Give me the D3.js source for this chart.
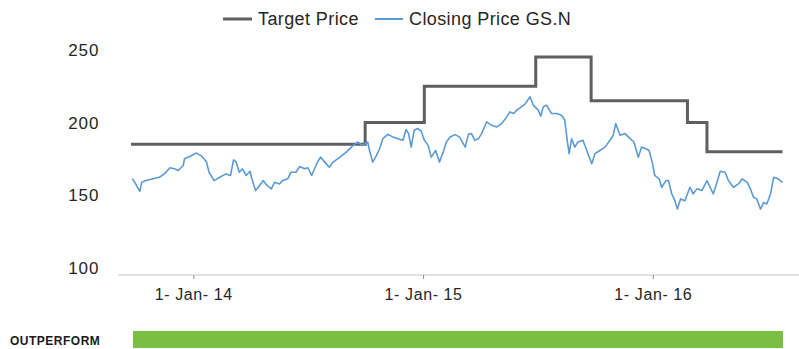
<!DOCTYPE html>
<html>
<head>
<meta charset="utf-8">
<script src="https://cdn.jsdelivr.net/npm/d3@7"></script>
<style>
  body { margin: 0; background: #fff; }
  svg { display: block; font-family: "Liberation Sans", Arial, sans-serif; }
</style>
</head>
<body>
<svg id="chart" width="799" height="349"></svg>
<script>
// Closing price of GS.N (sampled)
const priceDates = [
  "2013-09-26","2013-09-30","2013-10-08","2013-10-11","2013-10-18","2013-10-29","2013-11-08","2013-11-16",
  "2013-11-25","2013-12-02","2013-12-08","2013-12-16","2013-12-18","2013-12-26","2014-01-06","2014-01-15",
  "2014-01-22","2014-01-26","2014-02-03","2014-02-12","2014-02-22","2014-03-01","2014-03-06","2014-03-10",
  "2014-03-15","2014-03-20","2014-03-26","2014-04-01","2014-04-04","2014-04-10","2014-04-16","2014-04-22",
  "2014-04-27","2014-05-05","2014-05-10","2014-05-18","2014-05-23","2014-05-31","2014-06-05","2014-06-13",
  "2014-06-19","2014-06-27","2014-07-02","2014-07-08","2014-07-16","2014-07-22","2014-07-29","2014-08-05",
  "2014-08-11","2014-08-22","2014-09-01","2014-09-12","2014-09-19","2014-09-27","2014-10-05","2014-10-08",
  "2014-10-13","2014-10-19","2014-10-24","2014-10-29","2014-11-06","2014-11-14","2014-11-22","2014-11-30",
  "2014-12-05","2014-12-09","2014-12-13","2014-12-18","2014-12-23","2014-12-29","2015-01-03","2015-01-09",
  "2015-01-14","2015-01-21","2015-01-27","2015-02-02","2015-02-07","2015-02-13","2015-02-21","2015-02-28",
  "2015-03-09","2015-03-14","2015-03-19","2015-03-24","2015-03-30","2015-04-04","2015-04-12","2015-04-20",
  "2015-04-28","2015-05-06","2015-05-14","2015-05-19","2015-05-25","2015-05-30","2015-06-06","2015-06-12",
  "2015-06-20","2015-06-25","2015-07-03","2015-07-07","2015-07-11","2015-07-16","2015-07-24","2015-08-01",
  "2015-08-09","2015-08-14","2015-08-18","2015-08-21","2015-08-25","2015-08-30","2015-09-04","2015-09-12",
  "2015-09-18","2015-09-26","2015-10-01","2015-10-09","2015-10-17","2015-10-25","2015-10-30","2015-11-03",
  "2015-11-10","2015-11-18","2015-11-26","2015-12-02","2015-12-09","2015-12-14","2015-12-21","2015-12-26",
  "2015-12-31","2016-01-04","2016-01-11","2016-01-15","2016-01-22","2016-01-26","2016-01-31","2016-02-05",
  "2016-02-09","2016-02-14","2016-02-21","2016-02-29","2016-03-05","2016-03-11","2016-03-19","2016-03-27",
  "2016-04-01","2016-04-06","2016-04-12","2016-04-17","2016-04-25","2016-04-30","2016-05-08","2016-05-16",
  "2016-05-22","2016-05-30","2016-06-04","2016-06-09","2016-06-14","2016-06-20","2016-06-25","2016-06-30",
  "2016-07-06","2016-07-11","2016-07-18","2016-07-25"
];
const priceValues = [
  161.3,158.9,152.7,158.9,160.1,161.3,162.4,164.7,
  168.9,168.2,167.0,170.5,175.1,176.7,179.0,176.7,
  172.8,165.8,160.1,162.4,164.7,163.6,174.4,172.8,
  165.8,168.2,163.6,166.5,161.3,153.2,156.6,160.1,
  157.3,154.4,158.9,157.8,160.1,161.3,165.8,165.8,
  169.8,168.2,168.9,163.6,171.7,176.2,172.8,169.3,
  172.8,176.2,179.7,184.3,186.6,184.3,186.6,180.8,
  172.8,177.4,182.0,188.9,191.9,190.0,188.9,187.8,
  195.2,192.4,183.1,194.7,195.9,194.2,187.8,184.3,
  176.2,180.8,172.8,179.7,186.6,190.0,191.7,190.0,
  183.1,191.9,192.4,187.8,188.9,192.4,200.4,198.1,
  197.0,199.3,203.9,207.3,206.2,208.5,210.8,212.7,
  217.7,212.0,208.5,204.4,210.8,212.0,206.2,206.2,
  205.0,201.6,187.8,178.6,188.9,183.1,186.6,187.8,
  180.8,171.7,178.6,180.8,183.1,187.8,191.2,199.3,
  191.2,192.4,188.9,186.6,176.2,183.1,182.0,180.8,
  172.8,163.6,161.3,155.5,160.1,160.1,150.9,146.3,
  140.5,147.5,146.3,155.5,150.9,154.4,153.2,160.1,
  155.5,150.9,158.9,166.5,165.8,160.1,155.5,157.8,
  161.3,158.9,154.4,148.6,147.5,140.5,145.1,144.0,
  150.9,162.4,161.3,158.9
];

// Target price changes (each level holds until the next change)
const targetDates = ["2013-09-24","2014-10-01","2015-01-03","2015-06-29","2015-09-25","2016-02-25","2016-03-27"];
const targetValues = [185, 200, 225, 245, 215, 200, 180];
const seriesEnd = "2016-07-25";

// Rating history shown in the strip below the chart
const ratingLabels = ["OUTPERFORM"];
const ratingStarts = ["2013-09-24"];
const ratingEnds = ["2016-07-25"];

const yTicks = [100, 150, 200, 250];
const xTicks = ["2014-01-01", "2015-01-01", "2016-01-01"];
const xTickLabels = ["1- Jan- 14", "1- Jan- 15", "1- Jan- 16"];
const legendLabels = ["Target Price", "Closing Price GS.N"];

const parse = d3.timeParse("%Y-%m-%d");
const svg = d3.select("#chart");

const x = d3.scaleTime()
  .domain([parse(targetDates[0]), parse(seriesEnd)])
  .range([131, 782.5]);
const y = d3.scaleLinear().domain([100, 250]).range([268, 49.8]);

const axisY = 275;
const textColor = "#262626";
const targetColor = "#5f5f5f";
const priceColor = "#5b9bd5";

// horizontal axis line
svg.append("line")
  .attr("x1", 118).attr("x2", 799)
  .attr("y1", axisY).attr("y2", axisY)
  .attr("stroke", "#d9d9d9").attr("stroke-width", 1.5);

const xAxis = d3.axisBottom(x)
  .tickValues(xTicks.map(parse))
  .tickFormat((d, i) => xTickLabels[i])
  .tickSize(4).tickSizeOuter(0);

const gx = svg.append("g").attr("transform", `translate(0,${axisY})`).call(xAxis);
gx.select(".domain").remove();
gx.selectAll(".tick line").attr("stroke", "#8c8c8c").attr("stroke-width", 1);
gx.selectAll(".tick text")
  .attr("y", 25).attr("dy", 0)
  .attr("fill", textColor)
  .style("font-size", "16px")
  .style("letter-spacing", "0.6px")
  .style("font-family", "'Liberation Sans', Arial, sans-serif");

// y labels (no axis line)
svg.append("g").selectAll("text")
  .data(yTicks).join("text")
  .attr("x", 99.5).attr("y", d => y(d)).attr("dy", "0.36em")
  .attr("text-anchor", "end")
  .attr("fill", textColor)
  .style("font-size", "17px")
  .style("letter-spacing", "1px")
  .text(d => d);

// target price step line
const targetPts = targetDates.map((d, i) => [parse(d), targetValues[i]]);
targetPts.push([parse(seriesEnd), targetValues[targetValues.length - 1]]);
svg.append("path")
  .datum(targetPts)
  .attr("fill", "none")
  .attr("stroke", targetColor)
  .attr("stroke-width", 3)
  .attr("d", d3.line().x(d => x(d[0])).y(d => y(d[1])).curve(d3.curveStepAfter));

// closing price line
const pricePts = priceDates.map((d, i) => [parse(d), priceValues[i]]);
svg.append("path")
  .datum(pricePts)
  .attr("fill", "none")
  .attr("stroke", priceColor)
  .attr("stroke-width", 1.6)
  .attr("stroke-linejoin", "round")
  .attr("d", d3.line().x(d => x(d[0])).y(d => y(d[1])));

// legend
const legend = svg.append("g");
const legendItems = [
  { label: legendLabels[0], color: targetColor, width: 3, x: 223, len: 29 },
  { label: legendLabels[1], color: priceColor, width: 2, x: 375, len: 28 }
];
legendItems.forEach(it => {
  legend.append("line")
    .attr("x1", it.x).attr("x2", it.x + it.len)
    .attr("y1", 19).attr("y2", 19)
    .attr("stroke", it.color).attr("stroke-width", it.width);
  legend.append("text")
    .attr("x", it.x + it.len + 6).attr("y", 25)
    .attr("fill", textColor)
    .style("font-size", "18px")
    .style("letter-spacing", "0.4px")
    .text(it.label);
});

// rating strip
ratingLabels.forEach((lab, i) => {
  svg.append("rect")
    .attr("x", x(parse(ratingStarts[i])) + 2)
    .attr("width", x(parse(ratingEnds[i])) - x(parse(ratingStarts[i])) - 1.5)
    .attr("y", 331).attr("height", 17)
    .attr("fill", "#7abf43");
  svg.append("text")
    .attr("x", 10).attr("y", 345)
    .attr("fill", "#1a1a1a")
    .style("font-size", "12px")
    .style("font-weight", "bold")
    .style("letter-spacing", "0.5px")
    .text(lab);
});
</script>
</body>
</html>
